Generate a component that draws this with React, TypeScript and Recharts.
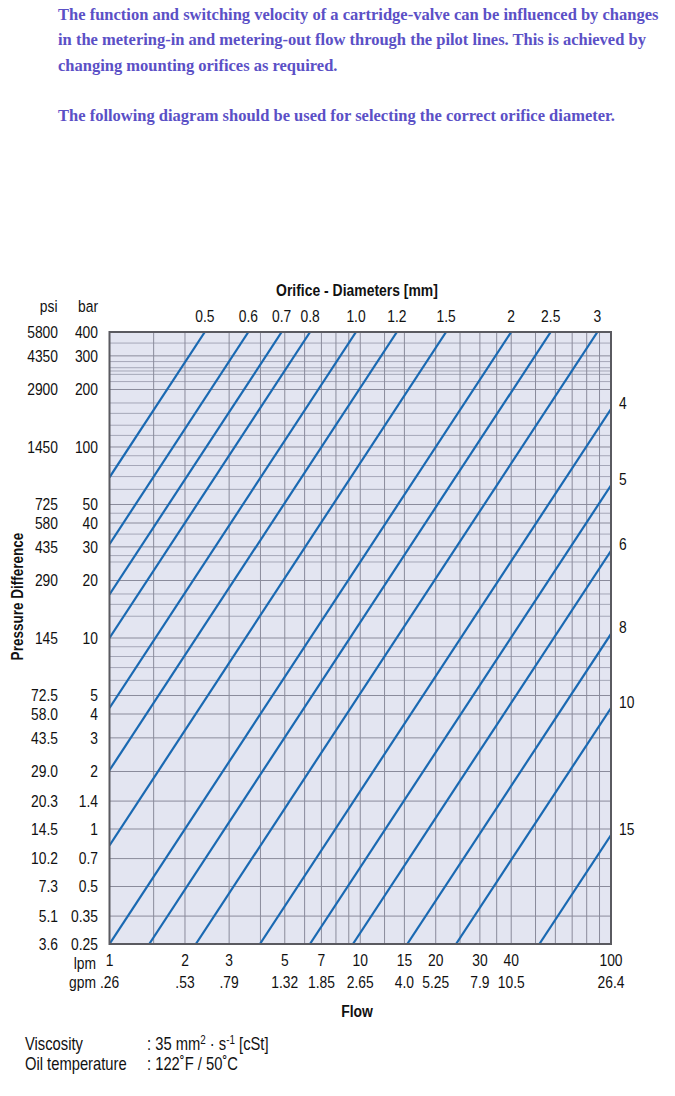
import React from 'react';
import { LineChart, Line, XAxis, YAxis, ReferenceLine, ReferenceArea } from 'recharts';

// orifice diameters [mm] and the two ends of each line (flow lpm, pressure bar)
const diameters = ['0.5', '0.6', '0.7', '0.8', '1.0', '1.2', '1.5', '2', '2.5', '3', '4', '5', '6', '8', '10', '15'];
const startFlow = [1, 1, 1, 1, 1, 1, 1, 1, 1.44, 2.21, 3.98, 6.3, 9.35, 15.4, 24.1, 51.8];
const startBar = [69.4, 31, 16.9, 10, 4.3, 2.03, 0.82, 0.25, 0.25, 0.25, 0.25, 0.25, 0.25, 0.25, 0.25, 0.25];
const endFlow = [2.4, 3.58, 4.86, 6.31, 9.62, 14, 22, 40, 57.5, 88.3, 100, 100, 100, 100, 100, 100];
const endBar = [400, 400, 400, 400, 400, 400, 400, 400, 400, 400, 158, 63, 28.6, 10.5, 4.3, 0.93];

const barTicks = [400, 300, 200, 100, 50, 40, 30, 20, 10, 5, 4, 3, 2, 1.4, 1, 0.7, 0.5, 0.35, 0.25];
const psiLabels = ['5800', '4350', '2900', '1450', '725', '580', '435', '290', '145', '72.5', '58.0', '43.5', '29.0', '20.3', '14.5', '10.2', '7.3', '5.1', '3.6'];
const barMinor = [350, 280, 260, 250, 240, 220, 170, 150, 130, 115, 90, 80, 70, 60, 45, 35, 27, 25, 17, 15, 13, 9, 8, 7, 6];

const lpmTicks = [1, 2, 3, 5, 7, 10, 15, 20, 30, 40, 100];
const gpmLabels = ['.26', '.53', '.79', '1.32', '1.85', '2.65', '4.0', '5.25', '7.9', '10.5', '26.4'];
const lpmGrid = [1.5, 2, 3, 4, 5, 6, 7, 8, 9, 10, 12.5, 15, 20, 25, 30, 35, 40, 50, 60, 70, 80, 90];

const introLines = [
  'The function and switching velocity of a cartridge-valve can be influenced by changes',
  'in the metering-in and metering-out flow through the pilot lines. This is achieved by',
  'changing mounting orifices as required.',
];
const introNote = 'The following diagram should be used for selecting the correct orifice diameter.';

const SANS = "'Liberation Sans', Arial, Helvetica, sans-serif";
const SERIF = "'Liberation Serif', 'Times New Roman', serif";
const LINE_BLUE = '#1a69b2';
const BG = '#e3e5f1';
const GRID = '#8a8b9b';
const GRID_MINOR = '#a5a7b8';

// condensed look: Arial squeezed horizontally
const NText = ({ x, y, anchor = 'start', size = 16.5, bold = false, sx = 0.84, children }: any) => (
  <text
    transform={`translate(${x},${y}) scale(${sx},1)`}
    textAnchor={anchor}
    fontFamily={SANS}
    fontSize={size}
    fontWeight={bold ? 'bold' : 'normal'}
    fill="#111"
  >
    {children}
  </text>
);

const series = diameters.map((d, i) => ({
  d,
  data: [
    { q: startFlow[i], p: startBar[i] },
    { q: endFlow[i], p: endBar[i] },
  ],
}));

const makeLabel = (i: number) => (props: any) => {
  const vx = props.viewBox?.x ?? props.x;
  const vy = props.viewBox?.y ?? props.y;
  if (props.value !== endBar[i] || vx == null) return null;
  if (endBar[i] === 400) {
    return <NText x={vx} y={vy - 10.5} anchor="middle">{diameters[i]}</NText>;
  }
  return <NText x={vx + 8} y={vy - 0.5}>{diameters[i]}</NText>;
};

const YTick = (props: any) => {
  const { x, y, payload } = props;
  const i = barTicks.indexOf(payload.value);
  return (
    <g>
      <NText x={x} y={y + 5.8} anchor="end">{String(payload.value)}</NText>
      <NText x={x - 40} y={y + 5.8} anchor="end">{psiLabels[i]}</NText>
    </g>
  );
};

const XTick = (props: any) => {
  const { x, y, payload } = props;
  const i = lpmTicks.indexOf(payload.value);
  return (
    <g>
      <NText x={x} y={y + 22} anchor="middle">{String(payload.value)}</NText>
      <NText x={x} y={y + 44} anchor="middle">{gpmLabels[i]}</NText>
      {i === 0 && (
        <>
          <NText x={x - 13.5} y={y + 24.5} anchor="end">lpm</NText>
          <NText x={x - 13.5} y={y + 44} anchor="end">gpm</NText>
        </>
      )}
    </g>
  );
};

export default function App() {
  return (
    <div style={{ position: 'absolute', left: 0, top: 0, width: 675, height: 1096, background: '#fff' }}>
      <div style={{ position: 'absolute', left: 0, top: 0 }}>
        <LineChart width={675} height={1096} margin={{ top: 332, right: 64, bottom: 92, left: 9.5 }}>
          <XAxis
            dataKey="q"
            type="number"
            scale="log"
            domain={[1, 100]}
            allowDataOverflow
            ticks={lpmTicks}
            interval={0}
            tick={<XTick />}
            tickLine={false}
            axisLine={false}
            tickSize={0}
            tickMargin={0}
            height={60}
          />
          <YAxis
            dataKey="p"
            type="number"
            scale="log"
            domain={[0.25, 400]}
            allowDataOverflow
            ticks={barTicks}
            interval={0}
            tick={<YTick />}
            tickLine={false}
            axisLine={false}
            tickSize={0}
            tickMargin={11.5}
            width={100}
          />
          <ReferenceArea x1={1} x2={100} y1={0.25} y2={400} fill={BG} fillOpacity={1} stroke="none" zIndex={-300} />
          {barMinor.map((v) => (
            <ReferenceLine key={'m' + v} y={v} stroke={GRID_MINOR} strokeWidth={1} zIndex={-200} />
          ))}
          {barTicks.map((v) => (
            <ReferenceLine key={'b' + v} y={v} stroke={GRID} strokeWidth={1} zIndex={-150} />
          ))}
          {lpmGrid.map((v) => (
            <ReferenceLine key={'q' + v} x={v} stroke={GRID} strokeWidth={1} zIndex={-150} />
          ))}
          {series.map((s, i) => (
            <Line
              key={s.d}
              data={s.data}
              dataKey="p"
              type="linear"
              stroke={LINE_BLUE}
              strokeWidth={2.2}
              dot={false}
              activeDot={false}
              isAnimationActive={false}
              label={makeLabel(i)}
            />
          ))}
          <ReferenceArea x1={1} x2={100} y1={0.25} y2={400} fill="none" stroke="#5a5a60" strokeWidth={2} zIndex={450} />
        </LineChart>
      </div>
      <svg width={675} height={1096} style={{ position: 'absolute', left: 0, top: 0, pointerEvents: 'none' }}>
        <g fontFamily={SERIF} fontWeight="bold" fontSize={16.5} fill="#5b50c6">
          {introLines.map((t, i) => (
            <text key={i} x={58} y={19.5 + i * 25.5}>{t}</text>
          ))}
          <text x={58} y={120.5}>{introNote}</text>
        </g>
        <NText x={357} y={296} anchor="middle" size={17} sx={0.82} bold>Orifice - Diameters [mm]</NText>
        <NText x={57.5} y={311.5} anchor="end">psi</NText>
        <NText x={98} y={311.5} anchor="end">bar</NText>
        <g transform="translate(23,596.5) rotate(-90)">
          <NText x={0} y={0} anchor="middle" size={16.5} sx={0.82} bold>Pressure Difference</NText>
        </g>
        <NText x={357} y={1017} anchor="middle" size={17} sx={0.82} bold>Flow</NText>
        <NText x={25} y={1050} size={18} sx={0.82}>Viscosity</NText>
        <NText x={147} y={1050} size={18} sx={0.82}>
          : 35 mm<tspan fontSize={12} dy={-6}>2</tspan>
          <tspan dy={6}> · s</tspan>
          <tspan fontSize={12} dy={-6}>-1</tspan>
          <tspan dy={6}> [cSt]</tspan>
        </NText>
        <NText x={25} y={1070} size={18} sx={0.82}>Oil temperature</NText>
        <NText x={147} y={1070} size={18} sx={0.82}>: 122˚F / 50˚C</NText>
      </svg>
    </div>
  );
}
